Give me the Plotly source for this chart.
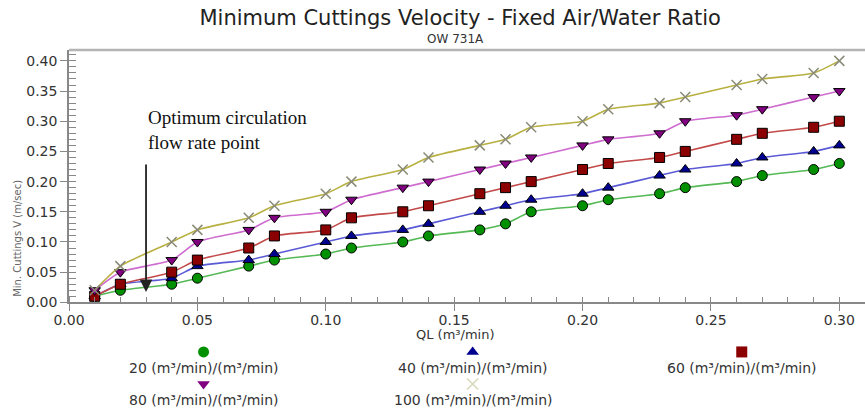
import plotly.graph_objects as go

ql = [0.01, 0.02, 0.04, 0.05, 0.07, 0.08, 0.10, 0.11, 0.13, 0.14, 0.16,
      0.17, 0.18, 0.20, 0.21, 0.23, 0.24, 0.26, 0.27, 0.29, 0.30]

v20 = [0.01, 0.02, 0.03, 0.04, 0.06, 0.07, 0.08, 0.09, 0.10, 0.11, 0.12,
       0.13, 0.15, 0.16, 0.17, 0.18, 0.19, 0.20, 0.21, 0.22, 0.23]
v40 = [0.01, 0.03, 0.04, 0.06, 0.07, 0.08, 0.10, 0.11, 0.12, 0.13, 0.15,
       0.16, 0.17, 0.18, 0.19, 0.21, 0.22, 0.23, 0.24, 0.25, 0.26]
v60 = [0.01, 0.03, 0.05, 0.07, 0.09, 0.11, 0.12, 0.14, 0.15, 0.16, 0.18,
       0.19, 0.20, 0.22, 0.23, 0.24, 0.25, 0.27, 0.28, 0.29, 0.30]
v80 = [0.02, 0.05, 0.07, 0.10, 0.12, 0.14, 0.15, 0.17, 0.19, 0.20, 0.22,
       0.23, 0.24, 0.26, 0.27, 0.28, 0.30, 0.31, 0.32, 0.34, 0.35]
v100 = [0.02, 0.06, 0.10, 0.12, 0.14, 0.16, 0.18, 0.20, 0.22, 0.24, 0.26,
        0.27, 0.29, 0.30, 0.32, 0.33, 0.34, 0.36, 0.37, 0.38, 0.40]

series_names = ["20 (m³/min)/(m³/min)", "40 (m³/min)/(m³/min)", "60 (m³/min)/(m³/min)",
                "80 (m³/min)/(m³/min)", "100 (m³/min)/(m³/min)"]
series_values = [v20, v40, v60, v80, v100]
line_colors = ["#55b955", "#5a5ad6", "#c24a4a", "#cf6ccf", "#b8b040"]
marker_colors = ["#009000", "#000090", "#8b0000", "#800080", "#b8b8a0"]
symbols = ["circle", "triangle-up", "square", "triangle-down", "x-thin"]

x_ticks = [0, 0.05, 0.10, 0.15, 0.20, 0.25, 0.30]
y_ticks = [0, 0.05, 0.10, 0.15, 0.20, 0.25, 0.30, 0.35, 0.40]

optimum_ql = 0.03

FONT = "DejaVu Sans"
fig = go.Figure()

for name, vals, lc, mc, sym in zip(series_names, series_values, line_colors, marker_colors, symbols):
    if sym == "x-thin":
        mk = dict(symbol=sym, size=10, color=mc, line=dict(color="#8a8a78", width=1.5))
    else:
        mk = dict(symbol=sym, size=10, color=mc, line=dict(color="#000000", width=1))
    fig.add_trace(go.Scatter(x=ql, y=vals, mode="lines+markers", name=name,
                             line=dict(color=lc, width=1.6, shape="spline", smoothing=0.6),
                             marker=mk, showlegend=False, xaxis="x", yaxis="y"))

# custom legend (markers above text), 3 columns
legend_rows = [0.81, 0.37]
for i, (name, mc, sym) in enumerate(zip(series_names, marker_colors, symbols)):
    col, row = i % 3, i // 3
    if sym == "x-thin":
        mk = dict(symbol=sym, size=11, color=mc, line=dict(color="#d8d8b8", width=1.5))
    else:
        mk = dict(symbol=sym, size=11, color=mc, line=dict(width=0))
    fig.add_trace(go.Scatter(x=[col], y=[legend_rows[row]], mode="markers",
                             marker=mk, showlegend=False, hoverinfo="skip",
                             xaxis="x2", yaxis="y2", cliponaxis=False))
    fig.add_annotation(text=name, x=col, y=legend_rows[row], xref="x2", yref="y2",
                       xanchor="center", yanchor="middle", yshift=-16, showarrow=False,
                       font=dict(family=FONT, size=14, color="#333333"))

fig.update_layout(
    width=865, height=411,
    margin=dict(l=69, r=0, t=50, b=0, autoexpand=False),
    paper_bgcolor="white", plot_bgcolor="white",
    font=dict(family=FONT, color="#333333"),
    title=dict(text="Minimum Cuttings Velocity - Fixed Air/Water Ratio",
               x=0.532, xanchor="center", y=0.956, yanchor="middle", automargin=False,
               font=dict(family=FONT, size=21, color="#222222")),
    xaxis=dict(domain=[0, 1], range=[0, 0.31], anchor="y", automargin=False,
               tickmode="array", tickvals=x_ticks, ticktext=[f"{t:.2f}" for t in x_ticks],
               ticks="outside", ticklen=7, tickcolor="#888888", ticklabelstandoff=-3,
               minor=dict(dtick=0.01, tick0=0, ticks="inside", ticklen=6, tickcolor="#888888"),
               showline=True, linecolor="#888888", linewidth=1.5,
               showgrid=False, zeroline=False,
               tickfont=dict(family=FONT, size=14, color="#333333")),
    yaxis=dict(domain=[0.301, 1], range=[0, 0.418], anchor="x", automargin=False,
               tickmode="array", tickvals=y_ticks, ticktext=[f"{t:.2f}" for t in y_ticks],
               ticks="outside", ticklen=7, tickcolor="#888888",
               minor=dict(dtick=0.01, tick0=0, ticks="inside", ticklen=7, tickcolor="#888888"),
               showline=True, linecolor="#888888", linewidth=1.5,
               showgrid=False, zeroline=False,
               tickfont=dict(family=FONT, size=14, color="#333333")),
    xaxis2=dict(domain=[0, 1], range=[-0.5, 2.458], anchor="y2", visible=False, automargin=False),
    yaxis2=dict(domain=[0, 0.202], range=[0, 1], anchor="x2", visible=False, automargin=False),
)

# top frame line
fig.add_shape(type="line", xref="paper", yref="paper", x0=0, x1=1, y0=1, y1=1,
              line=dict(color="#b4b4b4", width=2.5))

# subtitle
fig.add_annotation(text="OW 731A", xref="paper", yref="paper", x=0.486, y=1.03,
                   xanchor="center", yanchor="middle", showarrow=False,
                   font=dict(family=FONT, size=12, color="#333333"))

# axis titles
fig.add_annotation(text="QL (m³/min)", xref="paper", yref="paper", x=0.485, y=0.211,
                   xanchor="center", yanchor="middle", showarrow=False,
                   font=dict(family=FONT, size=13, color="#333333"))
fig.add_annotation(text="Min. Cuttings V (m/sec)", xref="paper", yref="paper",
                   x=-0.0657, y=0.479, textangle=-90, xanchor="center", yanchor="middle",
                   showarrow=False, font=dict(family=FONT, size=10, color="#666666"))

# optimum point arrow
fig.add_annotation(x=optimum_ql, y=0.017, ax=optimum_ql, ay=0.231, xref="x", yref="y",
                   axref="x", ayref="y", text="", showarrow=True, arrowhead=2,
                   arrowsize=1.4, arrowwidth=1.8, arrowcolor="#222222")
fig.add_annotation(text="Optimum circulation<br>flow rate point", x=optimum_ql, y=0.286,
                   xref="x", yref="y", xanchor="left", yanchor="middle", align="left",
                   showarrow=False,
                   font=dict(family="Liberation Serif", size=19, color="#111111"))

fig.write_html("out.html")
